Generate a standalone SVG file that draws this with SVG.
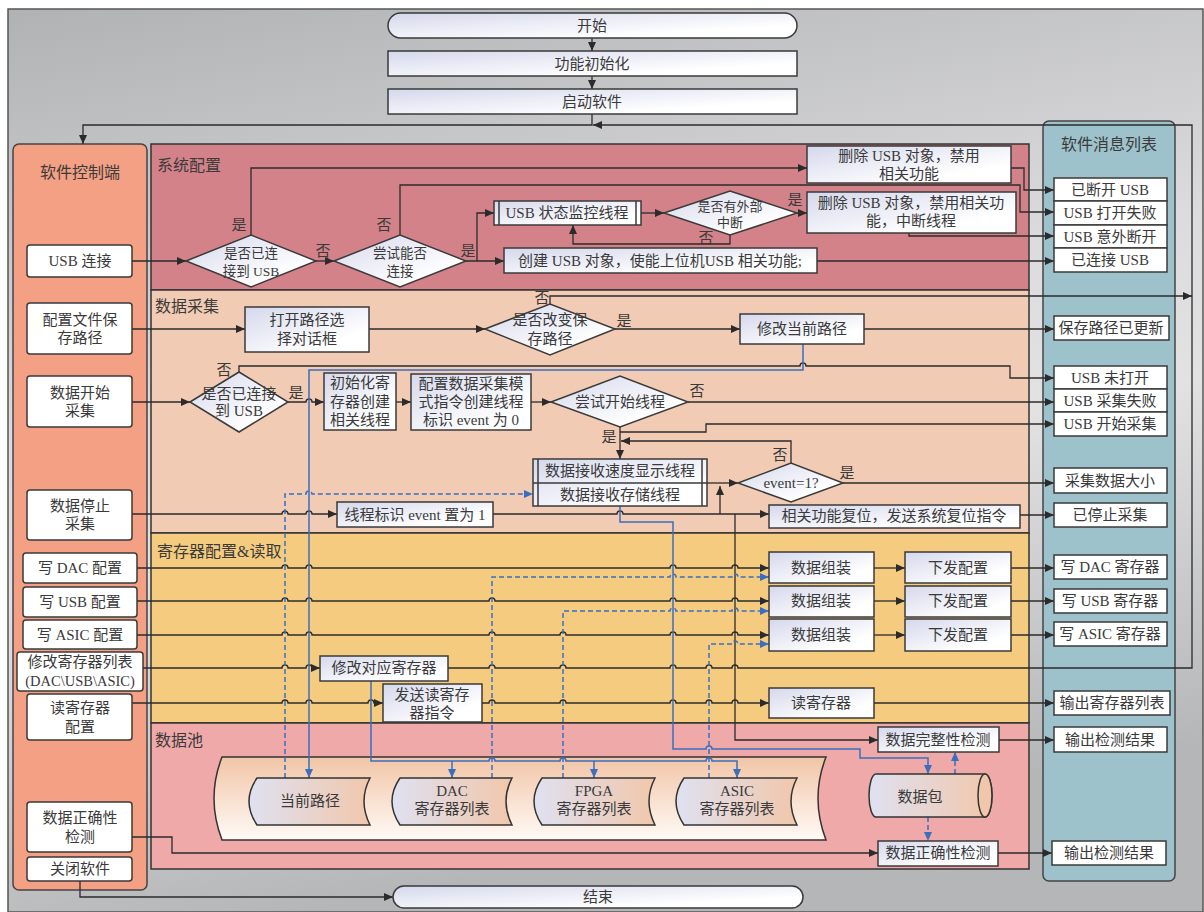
<svg xmlns="http://www.w3.org/2000/svg" width="1204" height="912" viewBox="0 0 1204 912">
<defs>
<linearGradient id="gBg" x1="0" y1="0" x2="0.25" y2="1">
<stop offset="0" stop-color="#b1b2b4"/><stop offset="0.45" stop-color="#dcdcde"/><stop offset="0.62" stop-color="#e2e2e3"/><stop offset="1" stop-color="#b5b6b8"/>
</linearGradient>
<linearGradient id="gBox" x1="0" y1="0" x2="1" y2="1">
<stop offset="0" stop-color="#d5d8ec"/><stop offset="0.75" stop-color="#ffffff"/>
</linearGradient>
<linearGradient id="gSto" x1="0" y1="0" x2="1" y2="0">
<stop offset="0" stop-color="#dfe1f1"/><stop offset="1" stop-color="#f1c7ab"/>
</linearGradient>
<linearGradient id="gBig" x1="0" y1="0" x2="0" y2="1">
<stop offset="0" stop-color="#f2c5a6"/><stop offset="1" stop-color="#fffaf6"/>
</linearGradient>
<marker id="a" markerUnits="userSpaceOnUse" markerWidth="9" markerHeight="8" refX="9" refY="4" orient="auto"><path d="M0,0 L9,4 L0,8 z" fill="#2b2b2b"/></marker>
<marker id="b" markerUnits="userSpaceOnUse" markerWidth="9" markerHeight="8" refX="9" refY="4" orient="auto"><path d="M0,0 L9,4 L0,8 z" fill="#3a6fc0"/></marker>
<style>
.box{fill:url(#gBox);stroke:#3a3a3a;stroke-width:1.5}
.wb{fill:#fff;stroke:#3a3a3a;stroke-width:1.5}
.sec{stroke:#333;stroke-width:1.5}
.t{font-family:"Liberation Serif","Noto Sans CJK SC",serif;font-size:15px;fill:#3a3a3a;text-anchor:middle;dominant-baseline:central}
.s{font-size:13.5px}
.h{font-size:16px}
.l{text-anchor:start;font-size:16px}
.ln{fill:none;stroke:#2b2b2b;stroke-width:1.3;marker-end:url(#a)}
.bl{fill:none;stroke:#3a6fc0;stroke-width:1.5;marker-end:url(#b)}
.bd{fill:none;stroke:#3a6fc0;stroke-width:1.5;stroke-dasharray:5 3;marker-end:url(#b)}
</style>
</defs>

<rect x="8" y="9" width="1195" height="903" fill="url(#gBg)" stroke="#555" stroke-width="1.5"/>

<g id="sections">
<rect class="sec" x="151" y="144" width="878" height="146" fill="#d4828a"/>
<rect class="sec" x="151" y="290" width="878" height="243" fill="#f2cbb4"/>
<rect class="sec" x="151" y="533" width="878" height="190" fill="#f5cc7f"/>
<rect class="sec" x="151" y="723" width="878" height="146" fill="#f0a9a9"/>
<text class="t l" x="157" y="165">系统配置</text>
<text class="t l" x="155" y="306">数据采集</text>
<text class="t l" x="157" y="551">寄存器配置&amp;读取</text>
<text class="t l" x="155" y="740">数据池</text>
</g>

<g id="ctrl-panel">
<rect x="13" y="144" width="134" height="746" rx="6" fill="#f4a084" stroke="#444" stroke-width="1.5"/>
<text class="t h" x="80" y="172">软件控制端</text>
</g>
<g id="msg-panel">
<rect x="1043" y="121" width="132" height="760" rx="6" fill="#9ec2cb" stroke="#444" stroke-width="1.5"/>
<text class="t h" x="1109" y="144">软件消息列表</text>
</g>

<g id="pool-store"><path d="M222 757 H826 Q810 798 826 840 H222 Q206 798 222 757 Z" fill="url(#gBig)" stroke="#333" stroke-width="1.5"/></g>

<g id="connectors">
<path class="ln" d="M592 38 V51"/>
<path class="ln" d="M592 76 V89"/>
<path class="ln" d="M592 114 V125 H83 V144"/>
<path class="ln" d="M448 668 H489 a3 3 0 0 1 6 0 H560 a3 3 0 0 1 6 0 H670 a3 3 0 0 1 6 0 H706 a3 3 0 0 1 6 0 H732 a3 3 0 0 1 6 0 H1192 V125 H593"/>
<path class="ln" d="M132 261 H186"/>
<path class="ln" d="M251 235 V168 H807"/>
<path class="ln" d="M316 261 H334"/>
<path class="ln" d="M400 235 V185 H1020 V212 H1054"/>
<path class="ln" d="M466 261 H504"/>
<path class="ln" d="M477 261 V213 H494"/>
<path class="ln" d="M641 213 H664"/>
<path class="ln" d="M797 213 H807"/>
<path class="ln" d="M730 235 V244 H573 V225"/>
<path class="ln" d="M1011 168 H1024 V190 H1054"/>
<path class="ln" d="M909 233 V236 H1054"/>
<path class="ln" d="M817 261 H1054"/>
<path class="ln" d="M132 329 H245"/>
<path class="ln" d="M369 329 H485"/>
<path class="ln" d="M615 329 H740"/>
<path class="ln" d="M864 329 H1054"/>
<path class="ln" d="M550 304 V296 H1192"/>
<path class="ln" d="M132 402 H190"/>
<path class="ln" d="M239 372 V366 H800 a3 3 0 0 1 6 0 H1010 V378 H1054"/>
<path class="ln" d="M288 402 H306 a3 3 0 0 1 6 0 H324"/>
<path class="ln" d="M396 402 H411"/>
<path class="ln" d="M531 402 H551"/>
<path class="ln" d="M688 402 H1054"/>
<path class="ln" d="M620 427 V459"/>
<path class="ln" d="M620 432 H706 V424 H1054"/>
<path class="ln" d="M791 463 V441 H621"/>
<path class="ln" d="M707 483 H738"/>
<path class="ln" d="M843 483 H1054"/>
<path class="ln" d="M132 514 H282 a3 3 0 0 1 6 0 H306 a3 3 0 0 1 6 0 H337"/>
<path class="ln" d="M493 514 H617 a3 3 0 0 1 6 0 H769"/>
<path class="ln" d="M720 514 V486"/>
<path class="ln" d="M735 514 V740 H878"/>
<path class="ln" d="M1020 515 H1054"/>
<path class="ln" d="M137 568 H282 a3 3 0 0 1 6 0 H306 a3 3 0 0 1 6 0 H670 a3 3 0 0 1 6 0 H732 a3 3 0 0 1 6 0 H769"/>
<path class="ln" d="M137 601 H282 a3 3 0 0 1 6 0 H306 a3 3 0 0 1 6 0 H489 a3 3 0 0 1 6 0 H670 a3 3 0 0 1 6 0 H732 a3 3 0 0 1 6 0 H769"/>
<path class="ln" d="M137 635 H282 a3 3 0 0 1 6 0 H306 a3 3 0 0 1 6 0 H489 a3 3 0 0 1 6 0 H560 a3 3 0 0 1 6 0 H670 a3 3 0 0 1 6 0 H732 a3 3 0 0 1 6 0 H769"/>
<path class="ln" d="M143 668 H282 a3 3 0 0 1 6 0 H306 a3 3 0 0 1 6 0 H320"/>
<path class="ln" d="M132 703 H282 a3 3 0 0 1 6 0 H306 a3 3 0 0 1 6 0 H368 a3 3 0 0 1 6 0 H383"/>
<path class="ln" d="M482 703 H489 a3 3 0 0 1 6 0 H560 a3 3 0 0 1 6 0 H670 a3 3 0 0 1 6 0 H706 a3 3 0 0 1 6 0 H732 a3 3 0 0 1 6 0 H769"/>
<path class="ln" d="M874 703 H1054"/>
<path class="ln" d="M874 568 H905"/>
<path class="ln" d="M874 601 H905"/>
<path class="ln" d="M874 635 H905"/>
<path class="ln" d="M1011 568 H1054"/>
<path class="ln" d="M1011 601 H1054"/>
<path class="ln" d="M1011 635 H1054"/>
<path class="ln" d="M999 740 H1054"/>
<path class="ln" d="M998 853 H1052"/>
<path class="ln" d="M132 837 H172 V853 H878"/>
<path class="ln" d="M80 881 V897 H393"/>
<path class="bl" d="M803 344 V370 H309 V778"/>
<path class="bl" d="M620 506 V522 H673 V749 H706 a3 3 0 0 1 6 0 H860 V758 H928 V774"/>
<path class="bl" d="M371 681 V761 H489 a3 3 0 0 1 6 0 H560 a3 3 0 0 1 6 0 H706 a3 3 0 0 1 6 0 H737 V778"/>
<path class="bl" d="M452 761 V778"/>
<path class="bl" d="M594 761 V778"/>
<path class="bd" d="M285 778 V494 H306 a3 3 0 0 1 6 0 H533"/>
<path class="bd" d="M492 778 V577 H670 a3 3 0 0 1 6 0 H732 a3 3 0 0 1 6 0 H769"/>
<path class="bd" d="M563 778 V611 H670 a3 3 0 0 1 6 0 H732 a3 3 0 0 1 6 0 H769"/>
<path class="bd" d="M709 778 V644 H732 a3 3 0 0 1 6 0 H769"/>
<path class="bd" d="M955 774 V752"/>
<path class="bd" d="M928 817 V841"/>
</g>

<g id="start"><rect class="box" x="388" y="13" width="409" height="25" rx="12.5"/><text class="t" x="592" y="26">开始</text></g>
<g id="init"><rect class="box" x="388" y="51" width="409" height="25"/><text class="t" x="592" y="64">功能初始化</text></g>
<g id="launch"><rect class="box" x="388" y="89" width="409" height="25"/><text class="t" x="592" y="102">启动软件</text></g>
<g id="end"><rect class="box" x="393" y="886" width="410" height="22" rx="11"/><text class="t" x="598" y="897">结束</text></g>

<g id="c-usb"><rect class="wb" x="27" y="245" width="105" height="32" rx="3"/><text class="t" x="80" y="261">USB 连接</text></g>
<g id="c-path"><rect class="wb" x="27" y="303" width="105" height="51" rx="3"/><text class="t" x="80" y="320">配置文件保</text><text class="t" x="80" y="338">存路径</text></g>
<g id="c-start"><rect class="wb" x="27" y="376" width="105" height="51" rx="3"/><text class="t" x="80" y="393">数据开始</text><text class="t" x="80" y="411">采集</text></g>
<g id="c-stop"><rect class="wb" x="27" y="490" width="105" height="50" rx="3"/><text class="t" x="80" y="506">数据停止</text><text class="t" x="80" y="524">采集</text></g>
<g id="c-dac"><rect class="wb" x="23" y="553" width="114" height="30" rx="3"/><text class="t" x="80" y="568">写 DAC 配置</text></g>
<g id="c-usbcfg"><rect class="wb" x="23" y="587" width="114" height="30" rx="3"/><text class="t" x="80" y="602">写 USB 配置</text></g>
<g id="c-asic"><rect class="wb" x="23" y="620" width="114" height="29" rx="3"/><text class="t" x="80" y="635">写 ASIC 配置</text></g>
<g id="c-modreg"><rect class="wb" x="17" y="652" width="126" height="39" rx="3"/><text class="t" x="80" y="662">修改寄存器列表</text><text class="t" x="80" y="681" style="font-size:14.5px">(DAC\USB\ASIC)</text></g>
<g id="c-readreg"><rect class="wb" x="27" y="694" width="105" height="46" rx="3"/><text class="t" x="80" y="708">读寄存器</text><text class="t" x="80" y="727">配置</text></g>
<g id="c-check"><rect class="wb" x="27" y="802" width="105" height="50" rx="3"/><text class="t" x="80" y="818">数据正确性</text><text class="t" x="80" y="837">检测</text></g>
<g id="c-close"><rect class="wb" x="27" y="857" width="105" height="24" rx="3"/><text class="t" x="80" y="869">关闭软件</text></g>

<g id="m1"><rect class="wb" x="1054" y="178" width="113" height="23"/><text class="t" x="1110" y="190">已断开 USB</text></g>
<g id="m2"><rect class="wb" x="1054" y="201" width="113" height="24"/><text class="t" x="1110" y="213">USB 打开失败</text></g>
<g id="m3"><rect class="wb" x="1054" y="225" width="113" height="23"/><text class="t" x="1110" y="237">USB 意外断开</text></g>
<g id="m4"><rect class="wb" x="1054" y="248" width="113" height="24"/><text class="t" x="1110" y="260">已连接 USB</text></g>
<g id="m5"><rect class="wb" x="1054" y="316" width="115" height="24"/><text class="t" x="1111" y="328">保存路径已更新</text></g>
<g id="m6"><rect class="wb" x="1054" y="366" width="113" height="23"/><text class="t" x="1110" y="378">USB 未打开</text></g>
<g id="m7"><rect class="wb" x="1054" y="389" width="113" height="23"/><text class="t" x="1110" y="401">USB 采集失败</text></g>
<g id="m8"><rect class="wb" x="1054" y="412" width="113" height="24"/><text class="t" x="1110" y="424">USB 开始采集</text></g>
<g id="m9"><rect class="wb" x="1054" y="468" width="113" height="25"/><text class="t" x="1110" y="481">采集数据大小</text></g>
<g id="m10"><rect class="wb" x="1054" y="503" width="113" height="24"/><text class="t" x="1110" y="515">已停止采集</text></g>
<g id="m11"><rect class="wb" x="1054" y="555" width="113" height="24"/><text class="t" x="1110" y="567">写 DAC 寄存器</text></g>
<g id="m12"><rect class="wb" x="1054" y="589" width="113" height="24"/><text class="t" x="1110" y="601">写 USB 寄存器</text></g>
<g id="m13"><rect class="wb" x="1054" y="622" width="113" height="24"/><text class="t" x="1110" y="634">写 ASIC 寄存器</text></g>
<g id="m14"><rect class="wb" x="1054" y="691" width="116" height="24"/><text class="t" x="1112" y="703">输出寄存器列表</text></g>
<g id="m15"><rect class="wb" x="1054" y="727" width="113" height="25"/><text class="t" x="1110" y="740">输出检测结果</text></g>
<g id="m16"><rect class="wb" x="1052" y="841" width="114" height="24"/><text class="t" x="1109" y="853">输出检测结果</text></g>

<g id="d-conn"><polygon class="box" points="186,261 251,235 316,261 251,287"/><text class="t s" x="251" y="253">是否已连</text><text class="t s" x="251" y="271">接到 USB</text></g>
<g id="d-try"><polygon class="box" points="334,261 400,235 466,261 400,287"/><text class="t s" x="400" y="253">尝试能否</text><text class="t s" x="400" y="271">连接</text></g>
<g id="p-del1"><rect class="box" x="807" y="146" width="204" height="37"/><text class="t" x="909" y="156">删除 USB 对象，禁用</text><text class="t" x="909" y="174">相关功能</text></g>
<g id="p-monitor"><rect class="box" x="494" y="201" width="147" height="24"/><line x1="499" y1="201" x2="499" y2="225" stroke="#3a3a3a" stroke-width="1.5"/><line x1="636" y1="201" x2="636" y2="225" stroke="#3a3a3a" stroke-width="1.5"/><text class="t" x="567" y="213">USB 状态监控线程</text></g>
<g id="d-int"><polygon class="box" points="664,213 730,191 797,213 730,235"/><text class="t" x="730" y="206" style="font-size:13px">是否有外部</text><text class="t" x="730" y="222" style="font-size:13px">中断</text></g>
<g id="p-del2"><rect class="box" x="807" y="192" width="209" height="41"/><text class="t" x="911" y="203">删除 USB 对象，禁用相关功</text><text class="t" x="911" y="221">能，中断线程</text></g>
<g id="p-create"><rect class="box" x="504" y="248" width="313" height="25"/><text class="t" x="660" y="261">创建 USB 对象，使能上位机USB 相关功能;</text></g>

<g id="p-dialog"><rect class="box" x="245" y="307" width="124" height="45"/><text class="t" x="307" y="320">打开路径选</text><text class="t" x="307" y="339">择对话框</text></g>
<g id="d-change"><polygon class="box" points="485,329 550,304 615,329 550,355"/><text class="t" x="550" y="320">是否改变保</text><text class="t" x="550" y="339">存路径</text></g>
<g id="p-modpath"><rect class="box" x="740" y="314" width="124" height="30"/><text class="t" x="802" y="329">修改当前路径</text></g>
<g id="d-conn2"><polygon class="box" points="190,402 239,372 288,402 239,432"/><text class="t" x="239" y="394">是否已连接</text><text class="t" x="239" y="411">到 USB</text></g>
<g id="p-initreg"><rect class="box" x="324" y="373" width="72" height="57"/><text class="t" x="360" y="383">初始化寄</text><text class="t" x="360" y="402">存器创建</text><text class="t" x="360" y="420">相关线程</text></g>
<g id="p-cfgmode"><rect class="box" x="411" y="374" width="120" height="56"/><text class="t" x="471" y="384">配置数据采集模</text><text class="t" x="471" y="402">式指令创建线程</text><text class="t" x="471" y="420">标识 event 为 0</text></g>
<g id="d-trystart"><polygon class="box" points="551,402 620,376 688,402 620,427"/><text class="t" x="620" y="402">尝试开始线程</text></g>
<g id="p-recv"><rect class="box" x="533" y="459" width="174" height="47"/><line x1="533" y1="483" x2="707" y2="483" stroke="#3a3a3a" stroke-width="1.5"/><line x1="538" y1="459" x2="538" y2="506" stroke="#3a3a3a" stroke-width="1.5"/><line x1="702" y1="459" x2="702" y2="506" stroke="#3a3a3a" stroke-width="1.5"/><text class="t" x="620" y="471">数据接收速度显示线程</text><text class="t" x="620" y="495">数据接收存储线程</text></g>
<g id="d-event"><polygon class="box" points="738,483 791,463 843,483 791,502"/><text class="t" x="791" y="483">event=1?</text></g>
<g id="p-setevent"><rect class="box" x="337" y="502" width="156" height="25"/><text class="t" x="415" y="515">线程标识 event 置为 1</text></g>
<g id="p-reset"><rect class="box" x="769" y="505" width="251" height="23"/><text class="t" x="894" y="516">相关功能复位，发送系统复位指令</text></g>

<g id="p-modreg"><rect class="box" x="320" y="656" width="128" height="25"/><text class="t" x="384" y="668">修改对应寄存器</text></g>
<g id="p-sendread"><rect class="box" x="383" y="684" width="99" height="38"/><text class="t" x="432" y="695">发送读寄存</text><text class="t" x="432" y="713">器指令</text></g>
<g id="p-asm1"><rect class="box" x="769" y="552" width="105" height="31"/><text class="t" x="821" y="568">数据组装</text></g>
<g id="p-asm2"><rect class="box" x="769" y="586" width="105" height="31"/><text class="t" x="821" y="601">数据组装</text></g>
<g id="p-asm3"><rect class="box" x="769" y="619" width="105" height="32"/><text class="t" x="821" y="635">数据组装</text></g>
<g id="p-send1"><rect class="box" x="905" y="552" width="106" height="31"/><text class="t" x="958" y="568">下发配置</text></g>
<g id="p-send2"><rect class="box" x="905" y="586" width="106" height="31"/><text class="t" x="958" y="601">下发配置</text></g>
<g id="p-send3"><rect class="box" x="905" y="619" width="106" height="32"/><text class="t" x="958" y="635">下发配置</text></g>
<g id="p-readreg"><rect class="box" x="769" y="688" width="105" height="30"/><text class="t" x="821" y="703">读寄存器</text></g>

<g id="s-path"><path d="M257 778 H370 Q358 801 370 825 H257 Q241 801 257 778 Z" fill="url(#gSto)" stroke="#333" stroke-width="1.5"/><text class="t" x="310" y="801">当前路径</text></g>
<g id="s-dac"><path d="M400 778 H512 Q500 801 512 825 H400 Q384 801 400 778 Z" fill="url(#gSto)" stroke="#333" stroke-width="1.5"/><text class="t" x="452" y="791">DAC</text><text class="t" x="452" y="809">寄存器列表</text></g>
<g id="s-fpga"><path d="M542 778 H655 Q643 801 655 825 H542 Q526 801 542 778 Z" fill="url(#gSto)" stroke="#333" stroke-width="1.5"/><text class="t" x="594" y="791">FPGA</text><text class="t" x="594" y="809">寄存器列表</text></g>
<g id="s-asic"><path d="M684 778 H797 Q785 801 797 825 H684 Q668 801 684 778 Z" fill="url(#gSto)" stroke="#333" stroke-width="1.5"/><text class="t" x="737" y="791">ASIC</text><text class="t" x="737" y="809">寄存器列表</text></g>
<g id="s-packet"><path d="M876 774 H985 A7 21.5 0 0 1 985 817 H876 A7 21.5 0 0 1 876 774 Z" fill="url(#gSto)" stroke="#333" stroke-width="1.5"/><ellipse cx="985" cy="795.5" rx="7" ry="21.5" fill="#f1c7ab" stroke="#333" stroke-width="1.5"/><text class="t" x="920" y="797">数据包</text></g>
<g id="p-integrity"><rect class="box" x="878" y="727" width="121" height="25"/><text class="t" x="938" y="740">数据完整性检测</text></g>
<g id="p-correct"><rect class="box" x="878" y="841" width="120" height="25"/><text class="t" x="938" y="853">数据正确性检测</text></g>

<g id="labels">
<text class="t" x="239" y="225">是</text>
<text class="t" x="323" y="251">否</text>
<text class="t" x="384" y="225">否</text>
<text class="t" x="468" y="251">是</text>
<text class="t" x="795" y="200">是</text>
<text class="t" x="706" y="238">否</text>
<text class="t" x="624" y="321">是</text>
<text class="t" x="542" y="298">否</text>
<text class="t" x="224" y="370">否</text>
<text class="t" x="296" y="393">是</text>
<text class="t" x="697" y="391">否</text>
<text class="t" x="609" y="437">是</text>
<text class="t" x="780" y="455">否</text>
<text class="t" x="847" y="473">是</text>
</g>
</svg>
